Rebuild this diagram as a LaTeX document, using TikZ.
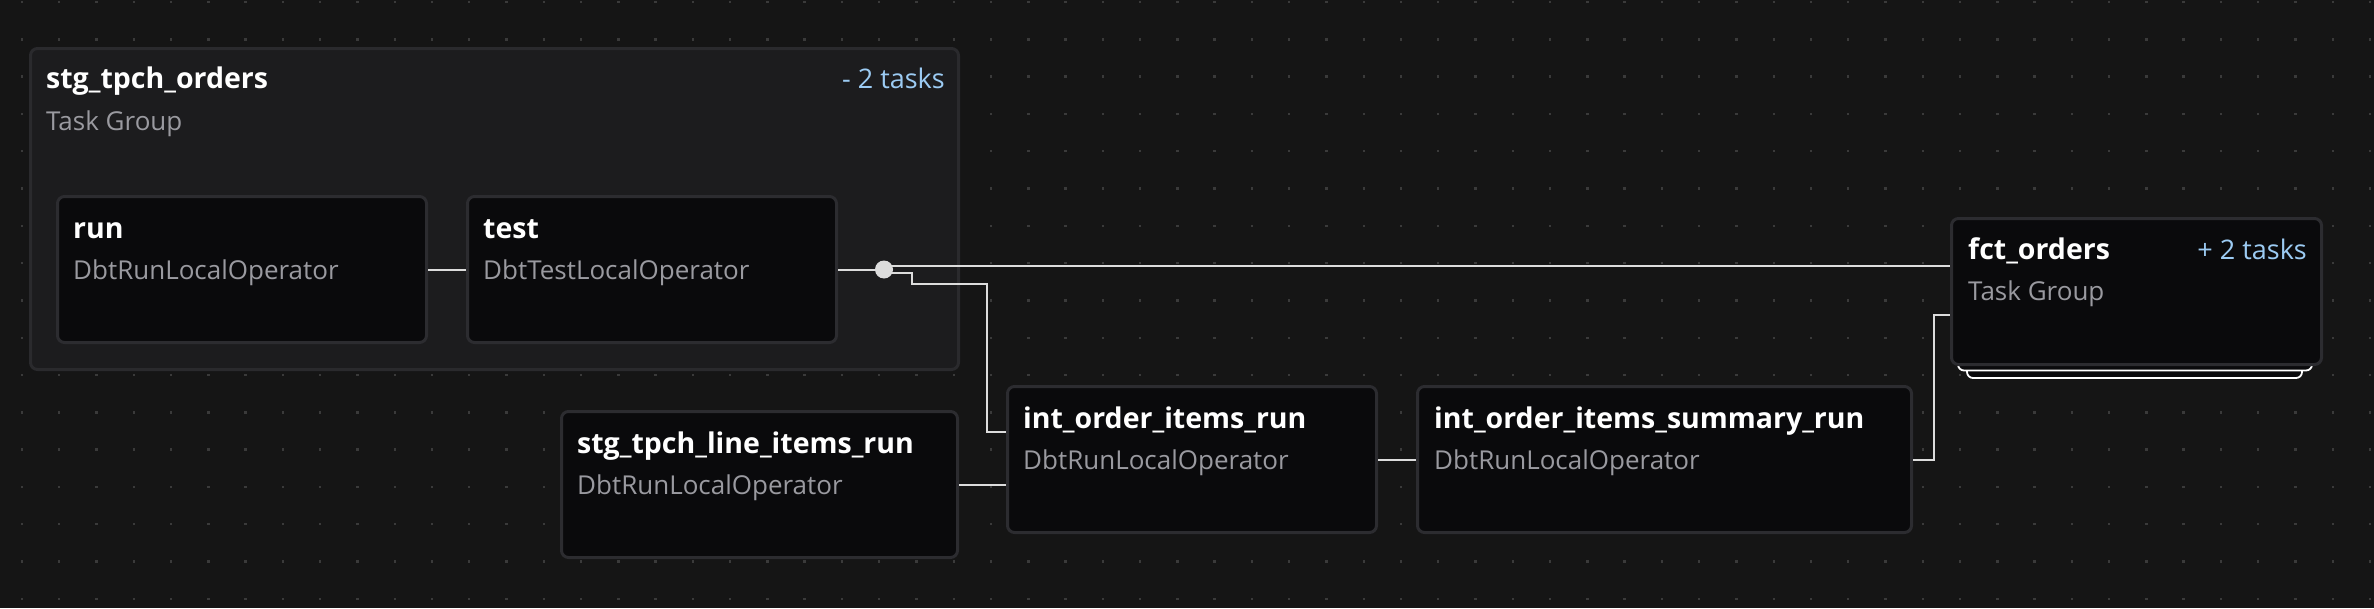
\documentclass[tikz,border=0pt]{standalone}
\usepackage{fontspec}
\setmainfont{Open Sans}
\usetikzlibrary{calc}
\definecolor{bg}{HTML}{151515}
\definecolor{dotc}{HTML}{3a3a3a}
\definecolor{grpfill}{HTML}{1c1c1e}
\definecolor{grpborder}{HTML}{2a2a2d}
\definecolor{nodefill}{HTML}{0a0a0c}
\definecolor{nodeborder}{HTML}{2c2c30}
\definecolor{subgray}{HTML}{9a9aa0}
\definecolor{taskblue}{HTML}{9ccbf3}
\definecolor{edgec}{HTML}{dcdcdc}
\tikzset{
  tgroup/.style={draw=grpborder, fill=grpfill, line width=3pt, rounded corners=7pt, anchor=north west, inner sep=0pt},
  taskbox/.style={draw=nodeborder, fill=nodefill, line width=3pt, rounded corners=7pt, anchor=north west, inner sep=0pt, minimum height=146pt},
  ttl/.style={anchor=base west, text=white, font=\bfseries\fontsize{28.5}{32}\selectfont, inner sep=0pt},
  sub/.style={anchor=base west, text=subgray, font=\fontsize{26}{30}\selectfont, inner sep=0pt},
  cnt/.style={anchor=base east, text=taskblue, font=\fontsize{27}{30}\selectfont, inner sep=0pt},
  edge/.style={draw=edgec, line width=2pt},
  cardline/.style={draw=white, fill=nodefill, line width=1.8pt, rounded corners=6pt},
}
\begin{document}
\begin{tikzpicture}[x=1pt,y=-1pt]
\fill[bg] (0,0) rectangle (2374,608);
\useasboundingbox (0,0) rectangle (2374,608);
\foreach \i in {0,...,63}{\foreach \j in {0,...,16}{\fill[dotc] ({22+37.27*\i-1.2},{2+37.3*\j-1.2}) rectangle ++(2.4,2.4);}}
% group
\node[tgroup, minimum width=928pt, minimum height=321pt] (grp) at (29,47) {};
\node[ttl] (grpT) at (46,88.5) {stg\_tpch\_orders};
\node[sub] (grpS) at (46,130.5) {Task Group};
\node[cnt] (grpC) at (945,88.5) {- 2 tasks};
% tasks
\node[taskbox, minimum width=369pt] (run) at (56,195) {};
\node[ttl] (runT) at (73,238.5) {run};
\node[sub] (runS) at (73,279.5) {DbtRunLocalOperator};
\node[taskbox, minimum width=369pt] (test) at (466,195) {};
\node[ttl] (testT) at (483,238.5) {test};
\node[sub] (testS) at (483,279.5) {DbtTestLocalOperator};
\node[taskbox, minimum width=396pt] (stgl) at (560,410) {};
\node[ttl] (stglT) at (577,453.5) {stg\_tpch\_line\_items\_run};
\node[sub] (stglS) at (577,494.5) {DbtRunLocalOperator};
\node[taskbox, minimum width=369pt] (intr) at (1006,385) {};
\node[ttl] (intrT) at (1023,428.5) {int\_order\_items\_run};
\node[sub] (intrS) at (1023,469.5) {DbtRunLocalOperator};
\node[taskbox, minimum width=494pt] (summ) at (1416,385) {};
\node[ttl] (summT) at (1434,428.5) {int\_order\_items\_summary\_run};
\node[sub] (summS) at (1434,469.5) {DbtRunLocalOperator};
% fct stacked cards
\path[cardline] (1967,330) rectangle (2302,378);
\path[cardline] (1958,330) rectangle (2312,370.5);
\node[taskbox, minimum width=370pt] (fct) at (1950,217) {};
\node[ttl] (fctT) at (1968,259.5) {fct\_orders};
\node[sub] (fctS) at (1968,300.5) {Task Group};
\node[cnt] (fctC) at (2307,259.5) {+ 2 tasks};
% edges
\coordinate (jc) at ($(test.east)+(46,0)$);
\draw[edge] (run.east) -- (test.west);
\draw[edge] (test.east) -- (jc);
\coordinate (a1) at ($(jc)+(0,-3.5)$);
\draw[edge] (a1) -- (a1 -| fct.west);
\coordinate (b0) at ($(jc)+(0,3.5)$);
\coordinate (b1) at ($(b0)+(28,0)$);
\coordinate (b2) at ($(b1)+(0,11)$);
\coordinate (b3) at ($(b2)+(75,0)$);
\coordinate (b4) at ($(intr.north west)+(0,47)$);
\draw[edge] (b0) -- (b1) -- (b2) -- (b3) |- (b4);
\draw[edge] (stgl.east) -- (stgl.east -| intr.west);
\draw[edge] (intr.east) -- (summ.west);
\coordinate (c1) at ($(fct.north west)+(0,98)$);
\draw[edge] (summ.east) -- ++(21,0) |- (c1);
\node[circle, fill=edgec, minimum size=18pt, inner sep=0pt] (jn) at (jc) {};
\end{tikzpicture}
\end{document}
